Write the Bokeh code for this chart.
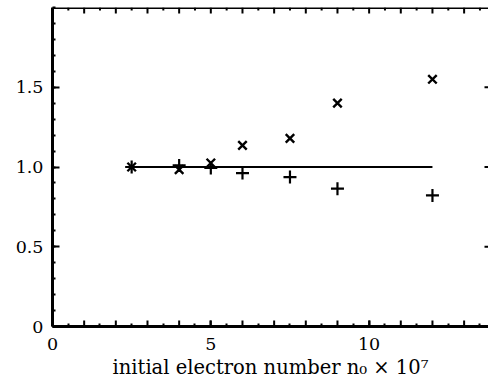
import math
from bokeh.plotting import figure
from bokeh.models import LinearAxis, FixedTicker, Range1d, Span
from bokeh.embed import file_html
from bokeh.resources import INLINE

# ---- data ----
n0 = [2.5, 4, 5, 6, 7.5, 9, 12]
ratio_line = [1.0, 1.0, 1.0, 1.0, 1.0, 1.0, 1.0]
ratio_cross_x = [1.0, 0.983, 1.025, 1.136, 1.18, 1.40, 1.55]
ratio_plus = [1.0, 1.01, 0.994, 0.962, 0.937, 0.864, 0.822]

x_labeled_ticks = [0, 5, 10]
x_int_ticks = list(range(0, 14))
x_half_ticks = [i + 0.5 for i in range(0, 14)]
y_major_ticks = [0, 0.5, 1.0, 1.5]
y_minor_ticks = [i / 10 for i in range(0, 21)]
y_tick_labels = {0: "0", 0.5: "0.5", 1.0: "1.0", 1.5: "1.5"}
x_label = "initial electron number n\u2080 \u00d7 10\u2077"

X_MAX = 13.77
Y_MAX = 2.0

FONT = "DejaVu Serif"
FS = "17.5px"
LABEL_FS = "19.5px"

p = figure(width=488, height=385, output_backend="svg", toolbar_location=None,
           x_range=Range1d(0, X_MAX), y_range=Range1d(0, Y_MAX),
           x_axis_location=None, y_axis_location=None,
           min_border_left=52, min_border_right=0, min_border_top=7,
           min_border_bottom=59)
p.outline_line_color = None
p.grid.visible = False
p.background_fill_color = "white"
p.border_fill_color = "white"


def style(ax, major_in=6, minor_in=3):
    ax.axis_line_width = 3
    ax.axis_line_color = "black"
    ax.major_tick_in = major_in
    ax.major_tick_out = 0
    ax.minor_tick_in = minor_in
    ax.minor_tick_out = 0
    ax.major_tick_line_width = 2
    ax.minor_tick_line_width = 2
    ax.major_tick_line_color = "black"
    ax.minor_tick_line_color = "black"
    ax.major_label_text_font = FONT
    ax.major_label_text_font_size = FS
    ax.major_label_text_color = "black"


bottom = LinearAxis(ticker=FixedTicker(ticks=x_labeled_ticks,
                                       minor_ticks=x_half_ticks))
style(bottom)
bottom.major_label_standoff = 11
bottom.axis_label = x_label
bottom.axis_label_text_font = FONT
bottom.axis_label_text_font_size = LABEL_FS
bottom.axis_label_text_font_style = "normal"
bottom.axis_label_text_color = "black"
bottom.axis_label_standoff = 3
p.add_layout(bottom, "below")

left = LinearAxis(ticker=FixedTicker(ticks=y_major_ticks, minor_ticks=y_minor_ticks),
                  major_label_overrides=y_tick_labels)
style(left, major_in=7, minor_in=3)
left.major_label_standoff = 9
p.add_layout(left, "left")

# top frame line
p.add_layout(Span(location=Y_MAX, dimension="width", line_color="black", line_width=3))

# unlabeled integer ticks on bottom, ticks on top and right (inward)
p.ray(x=x_int_ticks, y=[0] * len(x_int_ticks), length=6, length_units="screen",
      angle=math.pi / 2, line_color="black", line_width=2)
p.ray(x=x_int_ticks, y=[Y_MAX] * len(x_int_ticks), length=6, length_units="screen",
      angle=-math.pi / 2, line_color="black", line_width=2)
p.ray(x=x_half_ticks, y=[Y_MAX] * len(x_half_ticks), length=3, length_units="screen",
      angle=-math.pi / 2, line_color="black", line_width=2)
right_ticks = [0.5, 1.0, 1.5]
p.ray(x=[X_MAX] * len(right_ticks), y=right_ticks, length=4, length_units="screen",
      angle=math.pi, line_color="black", line_width=2)

p.line(n0, ratio_line, line_color="black", line_width=2.2)
p.scatter(n0, ratio_cross_x, marker="x", size=12, line_color="black", line_width=2.4)
p.scatter(n0, ratio_plus, marker="cross", size=13, line_color="black", line_width=2.2)

open("out.html", "w").write(file_html(p, INLINE))
